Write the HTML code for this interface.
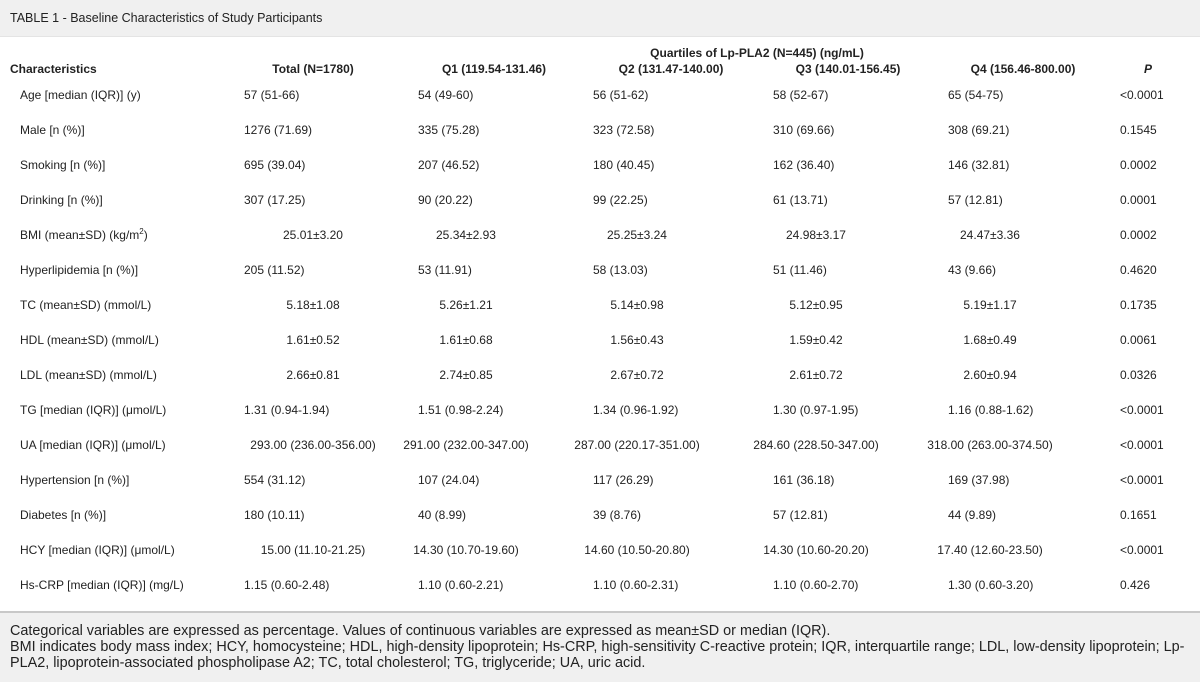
<!DOCTYPE html>
<html><head><meta charset="utf-8"><style>
body{margin:0;width:1200px;height:680px;background:#fff;font-family:"Liberation Sans",Arial,sans-serif;font-size:12px;color:#222;position:relative;overflow:hidden}
.t{position:absolute;white-space:nowrap;line-height:14px}
.c{transform:translateX(-50%)}
.b{font-weight:bold}
.f{font-size:14.4px;line-height:16px}
#title{position:absolute;left:0;top:0;width:1200px;height:36px;background:#f0f0f0;border-bottom:1px solid #e4e4e4}
#foot{position:absolute;left:0;top:611px;width:1200px;height:69px;background:#f0f0f0;border-top:2px solid #c8c8c8}
</style></head><body>
<div id="title"></div>
<div class="t" style="left:10px;top:11px;font-size:12.5px">TABLE 1 - Baseline Characteristics of Study Participants</div>
<div class="t b c" style="left:757px;top:46px">Quartiles of Lp-PLA2 (N=445) (ng/mL)</div>
<div class="t b" style="left:10px;top:62px">Characteristics</div>
<div class="t b c" style="left:313px;top:62px">Total (N=1780)</div>
<div class="t b c" style="left:494px;top:62px">Q1 (119.54-131.46)</div>
<div class="t b c" style="left:671px;top:62px">Q2 (131.47-140.00)</div>
<div class="t b c" style="left:848px;top:62px">Q3 (140.01-156.45)</div>
<div class="t b c" style="left:1023px;top:62px">Q4 (156.46-800.00)</div>
<div class="t b c" style="left:1148px;top:62px;font-style:italic">P</div>
<div id="rows"></div>
<div id="foot"></div>
<div class="t f" style="left:10px;top:623px">Categorical variables are expressed as percentage. Values of continuous variables are expressed as mean±SD or median (IQR).</div>
<div class="t f" style="left:10px;top:639px">BMI indicates body mass index; HCY, homocysteine; HDL, high-density lipoprotein; Hs-CRP, high-sensitivity C-reactive protein; IQR, interquartile range; LDL, low-density lipoprotein; Lp-</div>
<div class="t f" style="left:10px;top:655px">PLA2, lipoprotein-associated phospholipase A2; TC, total cholesterol; TG, triglyceride; UA, uric acid.</div>
<script>
var R=[
["Age [median (IQR)] (y)","57 (51-66)","54 (49-60)","56 (51-62)","58 (52-67)","65 (54-75)","<0.0001",0],
["Male [n (%)]","1276 (71.69)","335 (75.28)","323 (72.58)","310 (69.66)","308 (69.21)","0.1545",0],
["Smoking [n (%)]","695 (39.04)","207 (46.52)","180 (40.45)","162 (36.40)","146 (32.81)","0.0002",0],
["Drinking [n (%)]","307 (17.25)","90 (20.22)","99 (22.25)","61 (13.71)","57 (12.81)","0.0001",0],
["BMI (mean±SD) (kg/m<sup style='font-size:8px;line-height:0'>2</sup>)","25.01±3.20","25.34±2.93","25.25±3.24","24.98±3.17","24.47±3.36","0.0002",1],
["Hyperlipidemia [n (%)]","205 (11.52)","53 (11.91)","58 (13.03)","51 (11.46)","43 (9.66)","0.4620",0],
["TC (mean±SD) (mmol/L)","5.18±1.08","5.26±1.21","5.14±0.98","5.12±0.95","5.19±1.17","0.1735",1],
["HDL (mean±SD) (mmol/L)","1.61±0.52","1.61±0.68","1.56±0.43","1.59±0.42","1.68±0.49","0.0061",1],
["LDL (mean±SD) (mmol/L)","2.66±0.81","2.74±0.85","2.67±0.72","2.61±0.72","2.60±0.94","0.0326",1],
["TG [median (IQR)] (μmol/L)","1.31 (0.94-1.94)","1.51 (0.98-2.24)","1.34 (0.96-1.92)","1.30 (0.97-1.95)","1.16 (0.88-1.62)","<0.0001",0],
["UA [median (IQR)] (μmol/L)","293.00 (236.00-356.00)","291.00 (232.00-347.00)","287.00 (220.17-351.00)","284.60 (228.50-347.00)","318.00 (263.00-374.50)","<0.0001",1],
["Hypertension [n (%)]","554 (31.12)","107 (24.04)","117 (26.29)","161 (36.18)","169 (37.98)","<0.0001",0],
["Diabetes [n (%)]","180 (10.11)","40 (8.99)","39 (8.76)","57 (12.81)","44 (9.89)","0.1651",0],
["HCY [median (IQR)] (μmol/L)","15.00 (11.10-21.25)","14.30 (10.70-19.60)","14.60 (10.50-20.80)","14.30 (10.60-20.20)","17.40 (12.60-23.50)","<0.0001",1],
["Hs-CRP [median (IQR)] (mg/L)","1.15 (0.60-2.48)","1.10 (0.60-2.21)","1.10 (0.60-2.31)","1.10 (0.60-2.70)","1.30 (0.60-3.20)","0.426",0]];
var L=[244,418,593,773,948],C=[313,466,637,816,990],h="";
R.forEach(function(r,i){var y=88+i*35;
h+='<div class="t" style="left:20px;top:'+y+'px">'+r[0]+'</div>';
for(var j=0;j<5;j++){var v=r[j+1].replace(/</g,"&lt;");
h+=r[7]?'<div class="t c" style="left:'+C[j]+'px;top:'+y+'px">'+v+'</div>':'<div class="t" style="left:'+L[j]+'px;top:'+y+'px">'+v+'</div>';}
h+='<div class="t" style="left:1120px;top:'+y+'px">'+r[6].replace(/</g,"&lt;")+'</div>';});
document.getElementById("rows").innerHTML=h;
</script>
</body></html>
